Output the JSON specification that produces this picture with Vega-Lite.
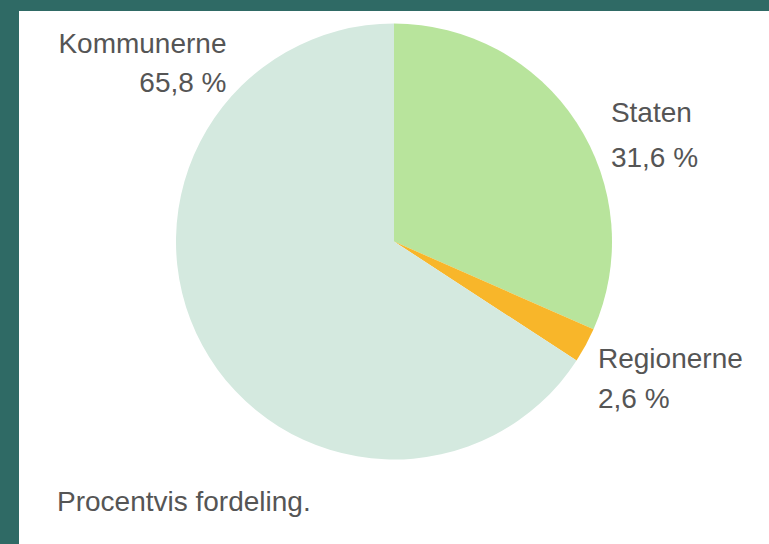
{
  "$schema": "https://vega.github.io/schema/vega-lite/v6.json",
  "autosize": "none",
  "width": 750,
  "height": 533,
  "padding": {"left": 19, "top": 11, "right": 0, "bottom": 0},
  "background": "#2f6a65",
  "config": {
    "view": {"stroke": null},
    "locale": {"number": {"decimal": ",", "thousands": ".", "grouping": [3], "currency": ["", " kr."], "percent": " %"}},
    "text": {"font": "Liberation Sans", "fontSize": 28, "fill": "#555555"}
  },
  "title": {
    "text": "Procentvis fordeling.",
    "orient": "bottom",
    "anchor": "start",
    "frame": "group",
    "offset": -55,
    "dx": 38,
    "font": "Liberation Sans",
    "fontSize": 28,
    "fontWeight": "normal",
    "color": "#555555"
  },
  "datasets": {
    "andele": [
      {"kategori": "Staten", "andel": 0.316},
      {"kategori": "Regionerne", "andel": 0.026},
      {"kategori": "Kommunerne", "andel": 0.658}
    ],
    "panel": [{"navn": "baggrund"}]
  },
  "data": {"name": "andele"},
  "layer": [
    {
      "data": {"name": "panel"},
      "mark": {"type": "rect", "color": "white"},
      "encoding": {}
    },
    {
      "mark": {"type": "arc", "outerRadius": 218, "yOffset": -36},
      "encoding": {
        "theta": {"field": "andel", "type": "quantitative", "stack": true},
        "order": {"field": "kategori", "sort": "descending"},
        "color": {
          "field": "kategori",
          "type": "nominal",
          "scale": {"domain": ["Staten", "Regionerne", "Kommunerne"], "range": ["#b8e49c", "#f8b62a", "#d4e9df"]},
          "legend": null
        }
      }
    },
    {
      "mark": {"type": "text", "radius": 259, "yOffset": -36, "align": "left", "baseline": "alphabetic", "dy": 22},
      "encoding": {
        "theta": {"field": "andel", "type": "quantitative", "stack": true},
        "order": {"field": "kategori", "sort": "descending"},
        "text": {"condition": {"test": "datum.kategori === 'Staten'", "field": "kategori"}, "value": ""}
      }
    },
    {
      "mark": {"type": "text", "radius": 259, "yOffset": -36, "align": "left", "baseline": "alphabetic", "dy": 67},
      "encoding": {
        "theta": {"field": "andel", "type": "quantitative", "stack": true},
        "order": {"field": "kategori", "sort": "descending"},
        "text": {"condition": {"test": "datum.kategori === 'Staten'", "field": "andel", "type": "quantitative", "format": ".1%"}, "value": ""}
      }
    },
    {
      "mark": {"type": "text", "radius": 232, "yOffset": -36, "align": "left", "baseline": "alphabetic", "dy": 16},
      "encoding": {
        "theta": {"field": "andel", "type": "quantitative", "stack": true},
        "order": {"field": "kategori", "sort": "descending"},
        "text": {"condition": {"test": "datum.kategori === 'Regionerne'", "field": "kategori"}, "value": ""}
      }
    },
    {
      "mark": {"type": "text", "radius": 232, "yOffset": -36, "align": "left", "baseline": "alphabetic", "dy": 56},
      "encoding": {
        "theta": {"field": "andel", "type": "quantitative", "stack": true},
        "order": {"field": "kategori", "sort": "descending"},
        "text": {"condition": {"test": "datum.kategori === 'Regionerne'", "field": "andel", "type": "quantitative", "format": ".1%"}, "value": ""}
      }
    },
    {
      "mark": {"type": "text", "radius": 252, "thetaOffset": 1.34, "yOffset": -36, "align": "right", "baseline": "alphabetic", "dy": 0},
      "encoding": {
        "theta": {"field": "andel", "type": "quantitative", "stack": true},
        "order": {"field": "kategori", "sort": "descending"},
        "text": {"condition": {"test": "datum.kategori === 'Kommunerne'", "field": "kategori"}, "value": ""}
      }
    },
    {
      "mark": {"type": "text", "radius": 252, "thetaOffset": 1.34, "yOffset": -36, "align": "right", "baseline": "alphabetic", "dy": 39},
      "encoding": {
        "theta": {"field": "andel", "type": "quantitative", "stack": true},
        "order": {"field": "kategori", "sort": "descending"},
        "text": {"condition": {"test": "datum.kategori === 'Kommunerne'", "field": "andel", "type": "quantitative", "format": ".1%"}, "value": ""}
      }
    }
  ]
}
